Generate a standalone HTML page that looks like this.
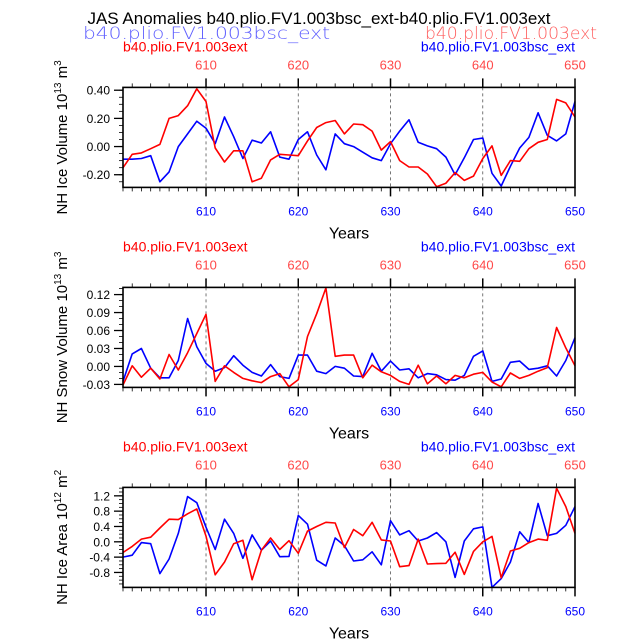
<!DOCTYPE html>
<html><head><meta charset="utf-8"><style>
body{margin:0;background:#fff}
svg{display:block;font-family:"Liberation Sans",sans-serif}
</style></head><body>
<svg id="chart" width="638" height="639" viewBox="0 0 638 639" xmlns="http://www.w3.org/2000/svg">
<text x="319" y="24" font-size="17" text-anchor="middle">JAS Anomalies b40.plio.FV1.003bsc_ext-b40.plio.FV1.003ext</text>
<text x="83" y="39" font-size="17" fill="#6060ff" textLength="247" lengthAdjust="spacingAndGlyphs" style="font-family:'DejaVu Sans ExtraLight','DejaVu Sans',sans-serif;font-weight:200">b40.plio.FV1.003bsc_ext</text>
<text x="425" y="39" font-size="17" fill="#ff6060" textLength="172" lengthAdjust="spacingAndGlyphs" style="font-family:'DejaVu Sans ExtraLight','DejaVu Sans',sans-serif;font-weight:200">b40.plio.FV1.003ext</text>
</svg>
<script>
const years = [];
for (let y = 601; y <= 650; y++) years.push(y);
const iceVolBsc = [-0.09,-0.09,-0.085,-0.065,-0.25,-0.18,0.00,0.09,0.18,0.13,0.02,0.21,0.07,-0.085,0.045,0.025,0.105,-0.075,-0.09,0.05,0.105,-0.06,-0.165,0.09,0.02,0.00,-0.04,-0.08,-0.10,0.02,0.11,0.19,0.03,0.005,-0.015,-0.075,-0.20,-0.08,0.05,0.06,-0.19,-0.28,-0.14,-0.01,0.065,0.24,0.08,0.04,0.09,0.32];
const iceVolExt = [-0.15,-0.055,-0.045,-0.015,0.015,0.20,0.22,0.29,0.41,0.32,-0.01,-0.11,-0.03,-0.03,-0.25,-0.225,-0.095,-0.055,-0.06,-0.065,0.04,0.135,0.17,0.185,0.09,0.16,0.155,0.11,-0.025,0.035,-0.10,-0.145,-0.145,-0.195,-0.285,-0.26,-0.185,-0.24,-0.21,-0.085,0.005,-0.205,-0.10,-0.105,-0.015,0.03,0.05,0.335,0.31,0.21];
const snowBsc = [-0.025,0.021,0.030,-0.003,-0.019,-0.019,0.010,0.080,0.033,0.005,-0.008,-0.002,0.018,0.002,-0.010,-0.016,0.003,-0.017,-0.020,0.019,0.019,-0.008,-0.012,0.000,-0.003,-0.016,-0.017,0.022,-0.008,0.009,-0.006,-0.004,-0.019,-0.012,-0.014,-0.022,-0.023,-0.015,0.017,0.026,-0.025,-0.021,0.007,0.009,-0.005,-0.003,0.001,-0.016,0.010,0.048];
const snowExt = [-0.031,0.001,-0.018,-0.003,-0.021,0.020,-0.006,0.023,0.055,0.087,-0.025,0.001,-0.010,-0.020,-0.024,-0.027,-0.017,-0.012,-0.034,-0.022,0.050,0.088,0.131,0.017,0.019,0.019,-0.019,0.002,-0.009,-0.015,-0.025,-0.030,0.002,-0.029,-0.016,-0.029,-0.015,-0.019,-0.013,-0.010,-0.026,-0.034,-0.011,-0.020,-0.015,-0.008,-0.002,0.065,0.031,0.001];
const areaBsc = [-0.40,-0.35,-0.02,-0.05,-0.83,-0.45,0.22,1.18,1.02,0.38,-0.20,0.59,0.22,-0.43,0.18,-0.22,0.02,-0.39,-0.38,0.69,0.46,-0.48,-0.63,0.10,-0.10,-0.50,-0.47,-0.26,-0.60,0.55,0.18,0.29,0.02,0.10,0.24,0.00,-0.93,0.02,0.34,0.39,-1.19,-0.96,-0.53,0.26,-0.02,1.00,0.16,0.22,0.43,0.92];
const areaExt = [-0.28,-0.12,0.07,0.12,0.36,0.59,0.58,0.73,0.86,0.15,-0.86,-0.53,-0.05,0.04,-0.99,-0.22,0.10,-0.20,0.03,-0.30,0.28,0.40,0.51,0.49,-0.15,0.32,0.16,0.51,0.05,0.02,-0.65,-0.62,0.07,-0.58,-0.57,-0.56,-0.27,-0.85,-0.25,0.00,0.14,-0.94,-0.24,-0.17,-0.02,0.07,0.04,1.40,0.92,0.22];
const xTickLabels = ["610","620","630","640","650"];
const iceVolTicks = ["-0.20","0.00","0.20","0.40"];
const snowTicks = ["-0.03","0.00","0.03","0.06","0.09","0.12"];
const areaTicks = ["-0.8","-0.4","0.0","0.4","0.8","1.2"];

const NS = "http://www.w3.org/2000/svg";
const svg = document.getElementById('chart');
function mk(tag, attrs, parent) {
  const e = document.createElementNS(NS, tag);
  for (const k in attrs) e.setAttribute(k, attrs[k]);
  (parent || svg).appendChild(e);
  return e;
}
const X0 = 123, X1 = 575, XMIN = 601, XMAX = 650;
function xs(v) { return X0 + (v - XMIN) / (XMAX - XMIN) * (X1 - X0); }

const panels = [
  {name:"ice-volume", off:0, ymin:-0.29, ymax:0.42, minor:0.05, ticks:iceVolTicks, bsc:iceVolBsc, ext:iceVolExt, title:"NH Ice Volume 10", sup:"13", unit:" m", usup:"3"},
  {name:"snow-volume", off:200, ymin:-0.035, ymax:0.132, minor:0.01, ticks:snowTicks, bsc:snowBsc, ext:snowExt, title:"NH Snow Volume 10", sup:"13", unit:" m", usup:"3"},
  {name:"ice-area", off:400, ymin:-1.19, ymax:1.42, minor:0.1, ticks:areaTicks, bsc:areaBsc, ext:areaExt, title:"NH Ice Area 10", sup:"12", unit:" m", usup:"2"}
];

panels.forEach(p => {
  const Y0 = 87.4 + p.off, Y1 = 187.4 + p.off;
  const ys = v => Y1 - (v - p.ymin) / (p.ymax - p.ymin) * (Y1 - Y0);
  const g = mk('g', {});
  
  
  xTickLabels.forEach(l => {
    const x = xs(+l);
    if (+l < XMAX) {
      const d = mk('line', {x1:x, x2:x, y1:Y0, y2:Y1, stroke:'#555', 'stroke-width':0.8, 'stroke-dasharray':'3,3'}, g);
      
      
    }
  });
  years.forEach(yr => {
    const x = xs(yr);
    const major = yr % 10 === 0;
    mk('line', {x1:x, x2:x, y1:Y1, y2:Y1 + (major ? 9 : 4), stroke:'#000', 'stroke-width': major ? 1.5 : 0.8}, g);
    if (yr % 2 === 0) mk('line', {x1:x, x2:x, y1:Y0, y2:Y0 - (major ? 9 : 4), stroke:'#000', 'stroke-width': major ? 1.5 : 0.8}, g);
  });
  xTickLabels.forEach(l => {
    const x = xs(+l);
    const b = mk('text', {x:x, y:Y1 + 28, 'font-size':12, fill:'#0000ff', 'text-anchor':'middle'}, g);
    b.textContent = l;
    
    
    const t = mk('text', {x:x, y:Y0 - 18, 'font-size':13, fill:'#ff4848', 'text-anchor':'middle'}, g);
    t.textContent = l;
    
    
  });
  const start = Math.ceil(p.ymin / p.minor - 1e-6);
  for (let k = start; k * p.minor <= p.ymax + 1e-9; k++) {
    const y = ys(k * p.minor);
    mk('line', {x1:X0, x2:X0 - 4, y1:y, y2:y, stroke:'#000', 'stroke-width':0.8}, g);
  }
  p.ticks.forEach(l => {
    const y = ys(+l);
    mk('line', {x1:X0, x2:X0 - 9, y1:y, y2:y, stroke:'#000', 'stroke-width':1.3}, g);
    const t = mk('text', {x:X0 - 13, y:y + 4.5, 'font-size':12, 'text-anchor':'end'}, g);
    t.textContent = l;
    
    
  });
  const line = (arr, color, nm) => {
    const d = arr.map((v, i) => (i ? 'L' : 'M') + xs(years[i]).toFixed(1) + ',' + ys(v).toFixed(1)).join('');
    const pl = mk('path', {d:d, fill:'none', stroke:color, 'stroke-width':1.6, 'stroke-linejoin':'round'}, g);
    
    
  };
  line(p.bsc, '#0000ff', p.name + '-bsc-line');
  line(p.ext, '#ff0000', p.name + '-ext-line');
  const fr = mk('rect', {x:X0, y:Y0, width:X1 - X0, height:Y1 - Y0, fill:'none', stroke:'#000', 'stroke-width':1.6}, g);
  
  
  const l1 = mk('text', {x:X0, y:Y0 - 36, 'font-size':14, fill:'#ff0000'}, g);
  l1.textContent = 'b40.plio.FV1.003ext';
  
  
  const l2 = mk('text', {x:X1, y:Y0 - 36, 'font-size':14, fill:'#0000ff', 'text-anchor':'end'}, g);
  l2.textContent = 'b40.plio.FV1.003bsc_ext';
  
  
  const xt = mk('text', {x:(X0 + X1) / 2, y:Y1 + 51, 'font-size':16, 'text-anchor':'middle'}, g);
  xt.textContent = 'Years';
  
  
  const cy = (Y0 + Y1) / 2;
  const yt = mk('text', {x:0, y:0, 'font-size':15, 'text-anchor':'middle', transform:`translate(67,${cy}) rotate(-90)`}, g);
  
  
  yt.innerHTML = `${p.title}<tspan dy="-6" font-size="10">${p.sup}</tspan><tspan dy="6">${p.unit}</tspan><tspan dy="-6" font-size="10">${p.usup}</tspan>`;
});
</script>
</body></html>
